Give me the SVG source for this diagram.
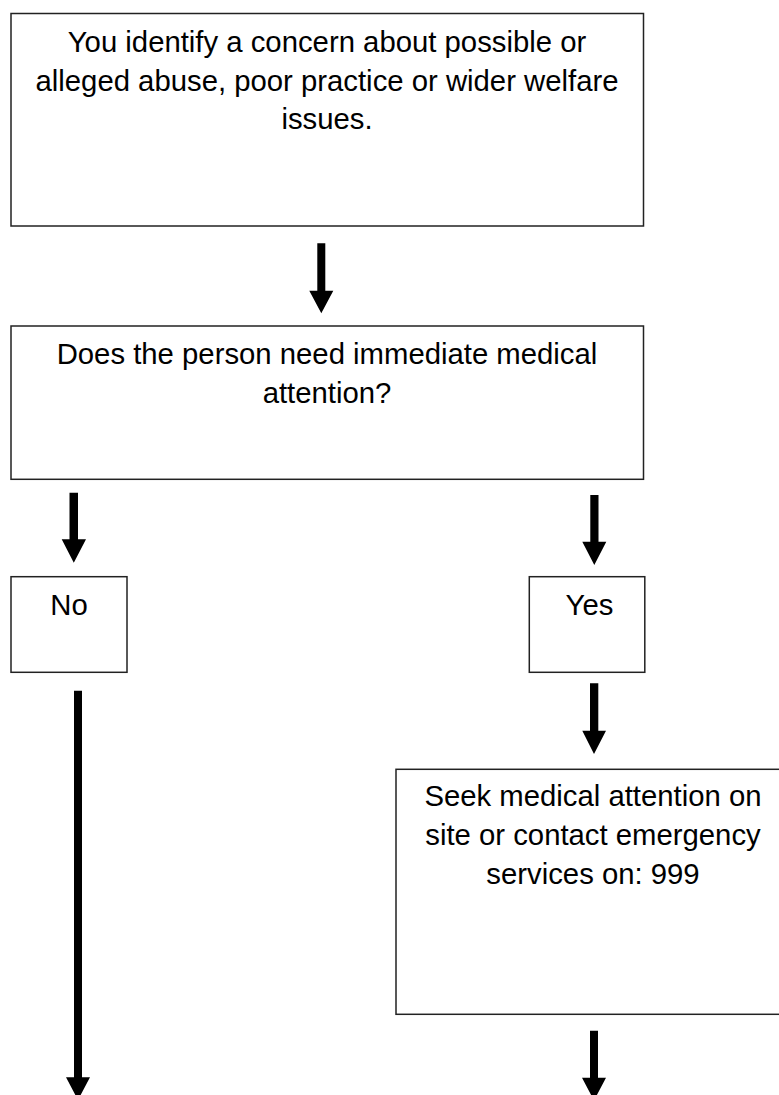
<svg xmlns="http://www.w3.org/2000/svg" width="779" height="1095" viewBox="0 0 779 1095">
<style>
.box{fill:#fff;stroke:#222;stroke-width:1.5}
.t{font-family:"Liberation Sans",Arial,sans-serif;font-size:29.3px;fill:#000;text-anchor:middle}
.shaft{fill:#000}
</style>
<rect width="779" height="1095" fill="#fff"/>
<g id="node-concern">
<rect class="box" x="11" y="13.5" width="632.5" height="212.5"/>
<text class="t" x="327" y="52">You identify a concern about possible or</text>
<text class="t" x="327" y="90.5">alleged abuse, poor practice or wider welfare</text>
<text class="t" x="327" y="129">issues.</text>
</g>
<g id="node-question">
<rect class="box" x="11" y="326" width="632.5" height="153.3"/>
<text class="t" x="327" y="364">Does the person need immediate medical</text>
<text class="t" x="327" y="403">attention?</text>
</g>
<g id="node-no">
<rect class="box" x="11" y="576.7" width="116" height="95.6"/>
<text class="t" x="69" y="615">No</text>
</g>
<g id="node-yes">
<rect class="box" x="529.3" y="576.7" width="115.5" height="95.6"/>
<text class="t" x="589.5" y="615">Yes</text>
</g>
<g id="node-seek">
<rect class="box" x="396" y="769.3" width="400" height="245"/>
<text class="t" x="593" y="806">Seek medical attention on</text>
<text class="t" x="593" y="845">site or contact emergency</text>
<text class="t" x="593" y="884">services on: 999</text>
</g>
<g id="connectors">
<path class="shaft" d="M317.3,243.3 H325.3 V290.7 H333.3 L321.3,313.3 L309.3,290.7 H317.3 Z"/>
<path class="shaft" d="M69.5,492.7 H78 V539.3 H86 L73.8,562.7 L61.7,539.3 H69.5 Z"/>
<path class="shaft" d="M590.3,495 H598.5 V541.7 H606.3 L594.3,565 L582.3,541.7 H590.3 Z"/>
<path class="shaft" d="M590,683.3 H598.3 V730.7 H606 L594,754 L582.3,730.7 H590 Z"/>
<path class="shaft" d="M74,690.7 H82 V1077.3 H90 L78,1100 L66,1077.3 H74 Z"/>
<path class="shaft" d="M590,1030.7 H598 V1077.7 H606 L594,1100.5 L582,1077.7 H590 Z"/>
</g>
</svg>
